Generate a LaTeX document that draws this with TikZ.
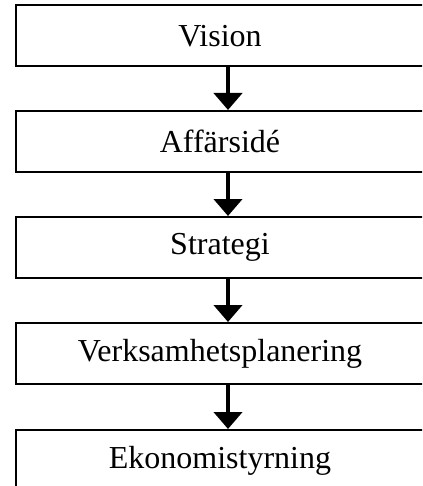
\documentclass[tikz,border=0pt]{standalone}
\usepackage{fontspec}
\setmainfont{Liberation Serif}
\usetikzlibrary{arrows.meta}
\begin{document}
\begin{tikzpicture}[x=1pt,y=-1pt,
  box/.style={draw, line width=2pt, minimum width=408pt, minimum height=61pt, inner sep=0pt, font=\fontsize{32}{38}\selectfont},
  arr/.style={line width=4.5pt, -{Triangle[width=28pt,length=17pt]}}]
\useasboundingbox (0,0) rectangle (422,486);
\clip (0,0) rectangle (422,486);
\coordinate (ax) at (228,0);
\node[box] (v) at (220,36) {Vision};
\node[box] (a) at (220,141.5) {Affärsidé};
\node[box] (s) at (220,247.5) {Strategi};
\node[box] (p) at (220,353.5) {Verksamhetsplanering};
\node[box] (e) at (220,460.5) {Ekonomistyrning};
\draw[arr] (v.south -| ax) -- (a.north -| ax);
\draw[arr] (a.south -| ax) -- (s.north -| ax);
\draw[arr] (s.south -| ax) -- (p.north -| ax);
\draw[arr] (p.south -| ax) -- (e.north -| ax);
\end{tikzpicture}
\end{document}
